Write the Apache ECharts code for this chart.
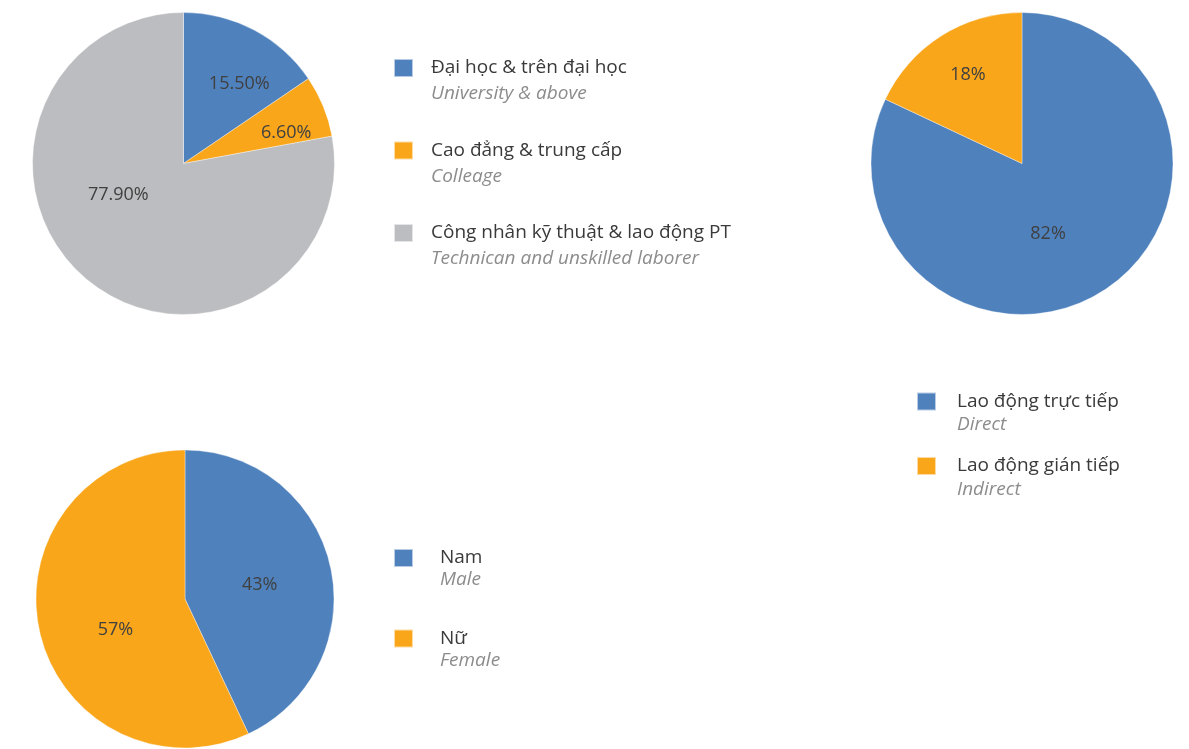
<!DOCTYPE html>
<html>
<head>
<meta charset="utf-8">
<script src="https://cdn.jsdelivr.net/npm/echarts@6/dist/echarts.min.js"></script>
<style>
html,body{margin:0;padding:0;background:#fff;}
#main{width:1189px;height:749px;}
</style>
</head>
<body>
<div id="main"></div>
<script>
// ---- data ----
var eduNames = ['Đại học & trên đại học', 'Cao đẳng & trung cấp', 'Công nhân kỹ thuật & lao động PT'];
var eduSubs = ['University & above', 'Colleage', 'Technican and unskilled laborer'];
var eduValues = [15.5, 6.6, 77.9];

var workNames = ['Lao động trực tiếp', 'Lao động gián tiếp'];
var workSubs = ['Direct', 'Indirect'];
var workValues = [82, 18];

var genderNames = ['Nam', 'Nữ'];
var genderSubs = ['Male', 'Female'];
var genderValues = [43, 57];

// ---- styles ----
var BLUE = '#4F81BD', ORANGE = '#F9A61B', GRAY = '#BCBDC0';
var FONT = '"Open Sans", "Noto Sans", sans-serif';
var eduColors = [BLUE, ORANGE, GRAY];
var workColors = [BLUE, ORANGE];
var genderColors = [BLUE, ORANGE];
var eduOffsets = [[19, -10], [30, -1], [-15, -29]];
var workOffsets = [[-16, 4], [-12, -22]];
var genderOffsets = [[-1, 3], [6, 14]];

var subMap = {};
eduNames.forEach(function (n, i) { subMap[n] = eduSubs[i]; });
workNames.forEach(function (n, i) { subMap[n] = workSubs[i]; });
genderNames.forEach(function (n, i) { subMap[n] = genderSubs[i]; });

function buildData(names, values, colors, offsets) {
  return names.map(function (n, i) {
    return { name: n, value: values[i], itemStyle: { color: colors[i] }, label: { offset: offsets[i] } };
  });
}

function pieSeries(center, radius, data, decimals) {
  return {
    type: 'pie',
    center: center,
    radius: radius,
    startAngle: 90,
    clockwise: true,
    silent: true,
    data: data,
    itemStyle: { borderColor: 'rgba(255,255,255,0.6)', borderWidth: 0.6 },
    label: {
      show: true,
      position: 'inside',
      color: '#404040',
      fontFamily: FONT,
      fontSize: 18,
      formatter: function (p) { return p.value.toFixed(decimals) + '%'; }
    },
    labelLine: { show: false },
    emphasis: { disabled: true }
  };
}

function legendCfg(names, left, top, gap, h1, h2, padLeft) {
  return {
    data: names,
    left: left,
    top: top,
    orient: 'vertical',
    icon: 'rect',
    itemWidth: 19,
    itemHeight: 18,
    itemGap: gap,
    selectedMode: false,
    formatter: function (n) { return '{e| }\n{a|' + n + '}\n{b|' + subMap[n] + '}'; },
    textStyle: {
      rich: {
        e: { fontSize: 10, lineHeight: h2 },
        a: { fontFamily: FONT, fontSize: 19, color: '#3a3a3a', lineHeight: h1, padding: [0, 0, 0, padLeft] },
        b: { fontFamily: FONT, fontSize: 19, fontStyle: 'italic', color: '#8c8c8c', lineHeight: h2, padding: [0, 0, 0, padLeft] }
      }
    }
  };
}

var chart = echarts.init(document.getElementById('main'), null, { renderer: 'canvas' });
chart.setOption({
  animation: false,
  backgroundColor: '#fff',
  legend: [
    legendCfg(eduNames, 388, 32, 16, 26, 26, 13),
    legendCfg(workNames, 911, 368, 3, 24, 23, 16),
    legendCfg(genderNames, 388, 526, 22, 22, 22, 22)
  ],
  series: [
    pieSeries([183.5, 163.5], 151, buildData(eduNames, eduValues, eduColors, eduOffsets), 2),
    pieSeries([1022, 163.5], 151, buildData(workNames, workValues, workColors, workOffsets), 0),
    pieSeries([185, 599], 149, buildData(genderNames, genderValues, genderColors, genderOffsets), 0)
  ]
});
</script>
</body>
</html>
